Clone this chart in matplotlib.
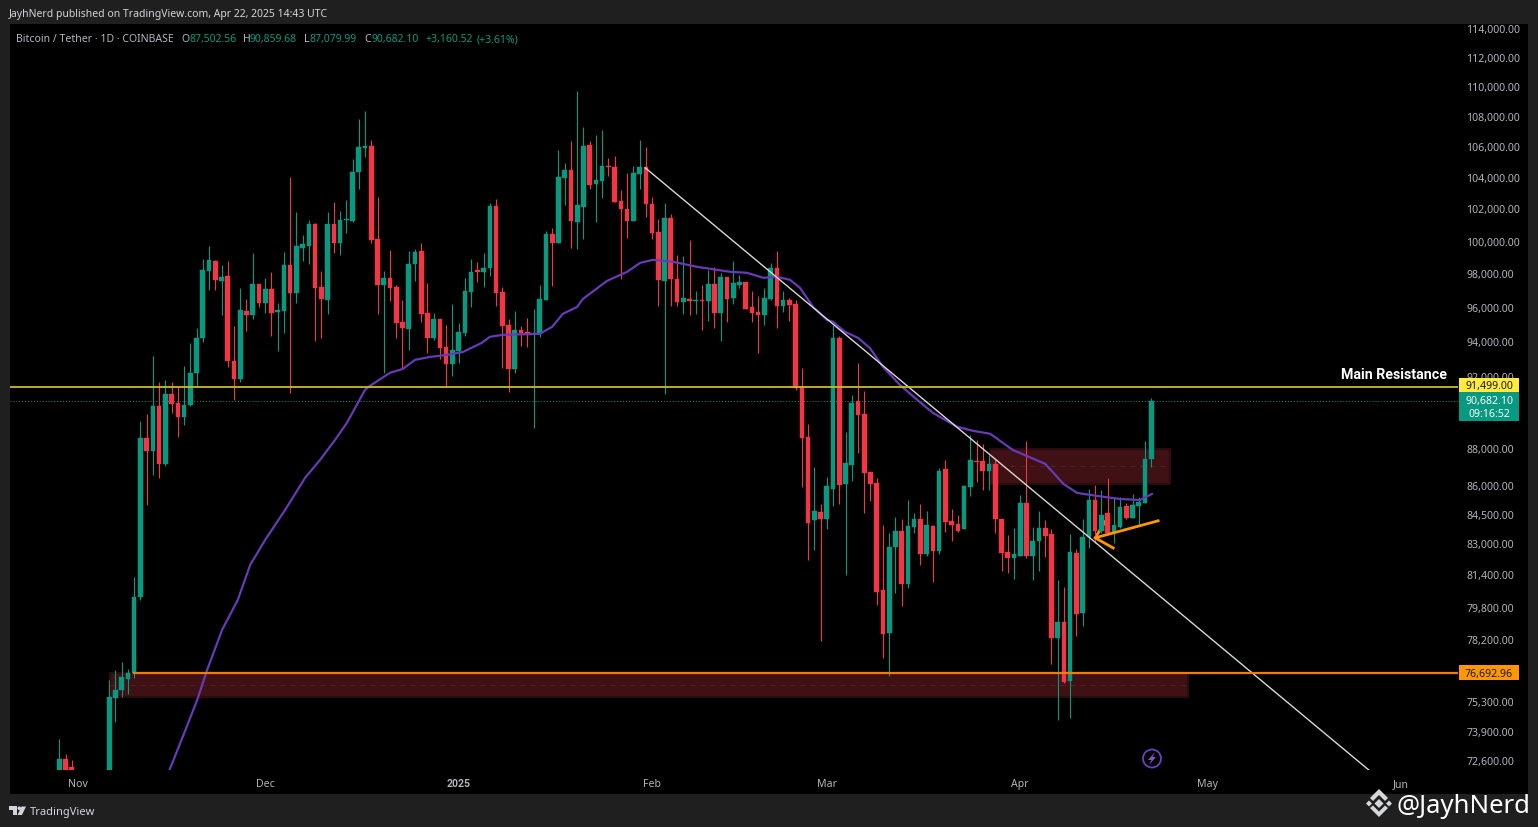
import matplotlib
matplotlib.use('Agg')
import matplotlib.pyplot as plt
from matplotlib.patches import Rectangle, Polygon, Circle
from matplotlib.ticker import NullLocator, NullFormatter
from matplotlib.transforms import ScaledTranslation

# daily candles, day 0 = 1 Nov 2024
first_day = -3
opens = [71300, 72730, 72375, 70200, 69500, 69300, 68700, 67800, 69400, 75520, 75890, 76410, 76700,
         80370, 88655, 87940, 90420, 87250, 91090, 90584, 89810, 90470, 92280,
         94290, 98270, 98875, 97667, 97970, 92964, 91940, 95874, 95640, 97486,
         96340, 97184, 95816, 95874, 98634, 96940, 99665, 99789, 101162, 97305,
         96520, 101162, 99976, 101411, 101349, 104455, 106003, 106135, 100227, 97425,
         97848, 97305, 95230, 94820, 98694, 99480, 95757, 94292, 95406, 93765,
         92794, 93532, 94585, 97003, 98332, 98211, 98453, 102283, 97003, 95054,
         92510, 94761, 94644, 94527, 94530, 96520, 100537, 99976, 104070, 104584,
         101286, 102221, 106200, 103685, 103879, 104841, 104777, 102595, 102096, 101349,
         104327, 104777, 102408, 100662, 97667, 101536, 97788, 96402, 96579, 96460,
         96519, 96460, 97486, 95757, 97909, 96640, 97425, 97606, 96109, 95816,
         95640, 96579, 98453, 96167, 96519, 96285, 91487, 88710, 84285, 84700,
         84340, 85910, 94292, 86179, 87193, 90694, 89978, 86819, 86232, 80723,
         78614, 82890, 83716, 81025, 83923, 84337, 82531, 83975, 82680, 86980,
         84234, 84079, 83820, 86016, 87407, 87407, 86870, 87246, 84337, 82632,
         82330, 82430, 85167, 82430, 83198, 83871, 83560, 78370, 79150, 76320,
         82581, 79588, 83405, 85322, 83716, 84649, 83612, 83923, 85011, 84389,
         85011, 85170, 87502.56]
highs = [73640, 72950, 72690, 71600, 69900, 69400, 69400, 70500, 76370, 76840, 77220, 76890, 81380,
         89592, 89978, 93248, 91771, 91885, 91771, 91487, 92680, 93999, 94878,
         98996, 99789, 98936, 98634, 98875, 95000, 97244, 96579, 99359, 97486,
         97848, 98211, 96343, 99419, 104134, 101909, 100475, 101411, 101224, 98272,
         101909, 102532, 101972, 102657, 105291, 107925, 108456, 106533, 102850, 98272,
         99540, 97425, 96519, 99480, 99602, 99976, 97546, 95757, 95406, 95054,
         96285, 95171, 97848, 98996, 98815, 99359, 102470, 102719, 97305, 95406,
         95874, 95000, 95465, 95992, 97425, 100726, 100911, 105870, 105034, 106467,
         109801, 107391, 106467, 106866, 107198, 105356, 105484, 103300, 104391, 104841,
         106533, 106069, 102850, 101473, 102470, 101785, 99238, 99178, 100165, 97063,
         97425, 98332, 98513, 98151, 97909, 98875, 98030, 97606, 97063, 96761,
         97244, 98755, 99480, 97063, 96640, 96519, 92567, 89427, 87086, 85115,
         86552, 95054, 94410, 88986, 91033, 92851, 91260, 86819, 86499, 84027,
         83612, 84441, 84337, 85322, 84649, 85115, 84752, 84027, 87033, 87460,
         84856, 84545, 86125, 88822, 88545, 88325, 87727, 87513, 84337, 83508,
         83871, 85590, 88490, 83923, 84752, 84285, 83820, 81226, 80874, 83560,
         82784, 84337, 85910, 86125, 85856, 86499, 85482, 85482, 85167, 85642,
         85482, 88490, 90859.68]
lows = [71000, 71400, 69700, 68800, 69000, 67500, 66800, 67500, 68800, 74420, 75560, 75700, 76460,
        80221, 85063, 86659, 86499, 87140, 90033, 88710, 89371, 90418, 91487,
        94058, 97123, 97123, 95640, 92623, 90749, 91771, 94702, 95406, 96109,
        95757, 94410, 93532, 94585, 91147, 96343, 98875, 98694, 94117, 94292,
        95698, 99359, 99238, 100600, 101286, 103364, 105420, 99976, 95698, 92283,
        96460, 94292, 92567, 93589, 97667, 95230, 93419, 94175, 93078, 91487,
        92112, 92851, 94410, 96109, 97606, 97305, 97970, 96167, 92567, 91204,
        92283, 93824, 93765, 89206, 94351, 96520, 97365, 99976, 102346, 99665,
        99602, 100227, 103364, 101286, 102785, 104198, 102532, 97788, 100290, 101349,
        103364, 101598, 100227, 96167, 91090, 96167, 96167, 95698, 95640, 95698,
        94761, 95289, 94878, 94117, 95230, 96285, 97244, 95992, 95230, 93419,
        95054, 96519, 94878, 95816, 95289, 91317, 86016, 82230, 82732, 78224,
        83820, 85011, 85115, 81477, 86339, 87834, 84649, 85270, 79977, 77408,
        76556, 80573, 79929, 80824, 83612, 81979, 82431, 81126, 82531, 83664,
        83198, 83664, 83820, 85536, 86285, 85856, 85856, 83612, 81678, 81578,
        81277, 82430, 82330, 81226, 81678, 82381, 77124, 74507, 76225, 74599,
        78468, 78955, 82836, 83094, 83612, 83612, 83094, 83871, 84337, 84389,
        83975, 85170, 87079.99]
closes = [72730, 72100, 70200, 69500, 69300, 68700, 67800, 69400, 75560, 75890, 76510, 76700, 80370,
          88655, 87941, 90418, 87246, 91090, 90529, 89812, 90473, 92283, 94292,
          98332, 98936, 97727, 97909, 92964, 91942, 95933, 95640, 97486, 96343,
          97184, 95757, 95933, 98634, 96942, 99789, 99914, 101162, 97244, 96579,
          101162, 99976, 101411, 101473, 104455, 106069, 106135, 100165, 97425, 97848,
          97244, 95171, 94878, 98694, 99419, 95698, 94292, 95406, 93706, 92794,
          93589, 94644, 97063, 98211, 98211, 98453, 102283, 96942, 95000, 92510,
          94761, 94585, 94527, 94585, 96579, 100537, 99976, 104134, 104584, 101349,
          102346, 106135, 103621, 103943, 104841, 104777, 102532, 102096, 101349, 104391,
          104777, 102408, 100600, 97727, 101536, 97788, 96402, 96640, 96460, 96519,
          96460, 97486, 95757, 97909, 96579, 97546, 97606, 95992, 95757, 95640,
          96640, 98453, 96167, 96519, 96226, 91431, 88655, 84131, 84752, 84337,
          86072, 94292, 86125, 87300, 90584, 89922, 86766, 86179, 80623, 78565,
          82887, 83716, 81025, 83975, 84337, 82531, 84027, 82682, 86872, 84182,
          84027, 83716, 86072, 87460, 87353, 86872, 87246, 84337, 82581, 82330,
          82531, 85167, 82430, 83198, 83871, 83456, 78370, 79150, 76272, 82632,
          79539, 83405, 85322, 83716, 84545, 83612, 84027, 84959, 84389, 85063,
          85218, 87513, 90682.10]

# moving average
ma_days = [14.6, 17.1, 19.1, 20.7, 23.1, 25.6, 27.6, 30.0, 33.2, 36.4, 38.8, 41.2, 43.1, 46.0, 46.8,
           50.0, 52.1, 54.0, 56.4, 59.1, 61.7, 64.7, 66.0, 68.1, 74.0, 76.0, 77.7, 80.0, 80.9, 84.8,
           88.0, 90.1, 92.1, 95.4, 99.2, 104.5, 107.2, 109.8, 112.0, 114.1, 115.7, 117.8, 120.0, 121.0,
           122.9, 125.0, 126.9, 129.0, 131.7, 134.5, 137.0, 140.9, 143.4, 146.2, 149.8, 155.0, 157.9,
           160.1, 163.3, 167.0, 170.2, 172.1]
ma_values = [72193, 73957, 75423, 76840, 78760, 80221, 81979, 83250, 84804, 86499, 87460, 88545, 89482,
             91317, 91544, 92283, 92510, 93021, 93191, 93305, 93475, 93999, 94351, 94468, 94527, 94940,
             95698, 96109, 96579, 97667, 98211, 98755, 98936, 98815, 98513, 98211, 98151, 97848, 97909,
             97727, 97244, 96109, 95347, 95230, 94644, 94292, 93706, 92623, 91601, 90749, 90033, 89262,
             89041, 88876, 87994, 87246, 86179, 85696, 85536, 85375, 85322, 85642]

trend_days = [90.9, 207.05]
trend_prices = [104713, 72193]
arrow_days = [173.1, 163.0, 165.9]
arrow_prices = [84234, 83354, 82836]
arrow_head_days = [163.0, 164.6]
arrow_head_prices = [83354, 84182]

resistance = 91499.00
last_price = 90682.10
support = 76692.96
support_box = (5.1, 177.9, 75564, 76693)
resist_box = (146.2, 175.0, 86179, 88049)

price_ticks = [114000, 112000, 110000, 108000, 106000, 104000, 102000, 100000, 98000, 96000, 94000, 92000,
               88000, 86000, 84500, 83000, 81400, 79800, 78200, 75300, 73900, 72600]
month_days = [0, 30, 61, 92, 120, 151, 181, 212]
month_labels = ['Nov', 'Dec', '2025', 'Feb', 'Mar', 'Apr', 'May', 'Jun']

GREEN = '#089981'
RED = '#f23645'
GREY = '#b2b5be'
FONT = 'Noto Sans'
W, H = 1538, 828

plt.rcParams['font.family'] = FONT

fig = plt.figure(figsize=(W / 100, H / 100), dpi=100, facecolor='#1f1f1f')
fig.add_artist(Rectangle((10 / W, 1 - 795 / H), 1518 / W, 770 / H, transform=fig.transFigure,
                         facecolor='black', edgecolor='none', zorder=-1))

ax = fig.add_axes([10 / W, 1 - 771 / H, 1448 / W, 746 / H], facecolor='black')
ax.set_yscale('log')
ax.set_xlim(-10.897, 221.154)
ax.set_ylim(72238, 114422)

for x0, x1, p0, p1 in (support_box, resist_box):
    ax.add_patch(Rectangle((x0, p0), x1 - x0, p1 - p0, facecolor='#3f1014', edgecolor='#2a0b0e', lw=1.5, zorder=1))
    mid = (p0 * p1) ** 0.5
    ax.plot([x0, x1], [mid, mid], color='#55262a', lw=0.6, ls=(0, (6, 6)), zorder=1.1)

ax.plot(arrow_head_days, arrow_head_prices, color='#ff9800', lw=2, zorder=2)

days = list(range(first_day, first_day + len(opens)))
for d, o, h, l, c in zip(days, opens, highs, lows, closes):
    col = GREEN if c >= o else RED
    ax.vlines(d, l, h, color=col, lw=0.8, zorder=3)
    ax.bar(d, abs(c - o), bottom=min(o, c), width=0.74, color=col, edgecolor=col, lw=0.3, zorder=3.1)

ax.plot(ma_days, ma_values, color='#673ab7', lw=1.6, zorder=4)
ax.plot(trend_days, trend_prices, color='#d8d8d8', lw=1.0, zorder=4.1)
ax.axhline(resistance, color='#cdbb1f', lw=1.3, zorder=4.2)
ax.axhline(last_price, color=GREEN, lw=0.7, ls=(0, (1, 2)), zorder=2.5)
ax.plot([9, 221.154], [support, support], color='#f57c00', lw=1.6, zorder=4.2)
ax.plot(arrow_days, arrow_prices, color='#ff9800', lw=2, zorder=5)

ax.yaxis.tick_right()
ax.yaxis.set_minor_locator(NullLocator())
ax.yaxis.set_minor_formatter(NullFormatter())
ax.set_yticks(price_ticks)
ax.set_yticklabels([f'{p:,.2f}' for p in price_ticks])
ax.set_xticks(month_days)
ax.set_xticklabels(month_labels)
ax.tick_params(axis='y', length=0, pad=6, labelsize=7.6, labelcolor=GREY)
ax.tick_params(axis='x', length=0, pad=5.8, labelsize=7.6, labelcolor=GREY)
ax.get_xticklabels()[2].set_fontfamily('Roboto')
ax.get_xticklabels()[2].set_fontweight('bold')
# price labels sit a touch above their level on the original scale
for t in ax.get_yticklabels():
    t.set_transform(t.get_transform() + ScaledTranslation(0, 2 / 100, fig.dpi_scale_trans))
for s in ax.spines.values():
    s.set_visible(False)

# overlay in image pixels for tags, header text and logos
ov = fig.add_axes([0, 0, 1, 1], facecolor='none')
ov.set_xlim(0, W)
ov.set_ylim(H, 0)
ov.axis('off')


def label(x, y, s, color=GREY, size=7.6, ha='left', **kw):
    ov.text(x, y + 1.5, s, color=color, fontsize=size, ha=ha, va='center', **kw)


label(9, 13, 'JayhNerd published on TradingView.com, Apr 22, 2025 14:43 UTC', color='#d1d4dc', size=7.5)
label(16, 38, 'Bitcoin / Tether · 1D · COINBASE', size=7.55)
for x, s in ((181, 'O'), (243, 'H'), (304, 'L'), (364, 'C')):
    label(x, 38, s, size=7.5)
for x, s in ((189, '87,502.56'), (250, '90,859.68'), (310, '87,079.99'), (371, '90,682.10'),
             (425, '+3,160.52'), (477, '(+3.61%)')):
    label(x, 38, s, color=GREEN, size=7.5)

label(1447, 374, 'Main Resistance', color='white', size=10.2, ha='right', fontweight='bold', family='Roboto')

ov.add_patch(Rectangle((1459, 378.5), 60, 14.5, facecolor='#ffeb3b', edgecolor='none'))
label(1489, 385, '91,499.00', color='#131722', ha='center')
ov.add_patch(Rectangle((1459, 393), 60, 29, facecolor=GREEN, edgecolor='none'))
label(1489, 400, '90,682.10', color='white', ha='center')
label(1489, 413, '09:16:52', color='white', ha='center')
ov.add_patch(Rectangle((1459, 666), 60, 15, facecolor='#ff9800', edgecolor='none'))
label(1489, 673, '76,692.96', color='#131722', ha='center')

# lightning badge
ov.add_patch(Circle((1152, 759.5), 9, facecolor='none', edgecolor='#6a3fc0', lw=1.3))
ov.add_patch(Polygon([(1155, 753), (1148, 761), (1151.5, 761), (1149, 766), (1156, 758), (1152.5, 758)],
                     facecolor='#7e57c2', edgecolor='none'))

# TradingView logo and name
ov.add_patch(Polygon([(9, 807.5), (17, 807.5), (17, 816), (13, 816), (13, 811), (9, 811)],
                     facecolor='#d1d4dc', edgecolor='none'))
ov.add_patch(Circle((19.3, 809.3), 1.8, facecolor='#d1d4dc', edgecolor='none'))
ov.add_patch(Polygon([(21.5, 807.5), (26, 807.5), (22, 816), (17.5, 816)], facecolor='#d1d4dc', edgecolor='none'))
label(30, 811, 'TradingView', color='#d1d4dc', size=8.0)

# watermark
bn = '#d5d8da'
ov.add_patch(Polygon([(1379, 800), (1383.5, 804.5), (1379, 809), (1374.5, 804.5)], facecolor=bn, edgecolor='none'))
ov.add_patch(Polygon([(1369, 801.5), (1372, 804.5), (1369, 807.5), (1366, 804.5)], facecolor=bn, edgecolor='none'))
ov.add_patch(Polygon([(1389, 801.5), (1392, 804.5), (1389, 807.5), (1386, 804.5)], facecolor=bn, edgecolor='none'))
ov.add_patch(Polygon([(1379, 790), (1388, 799), (1385, 802), (1379, 796), (1373, 802), (1370, 799)],
                     facecolor=bn, edgecolor='none'))
ov.add_patch(Polygon([(1379, 818), (1388, 809), (1385, 806.5), (1379, 812.5), (1373, 806.5), (1370, 809)],
                     facecolor=bn, edgecolor='none'))
label(1530, 805.5, '@JayhNerd', color='white', size=18.5, ha='right')

fig.savefig('out.png', dpi=100, facecolor=fig.get_facecolor())
